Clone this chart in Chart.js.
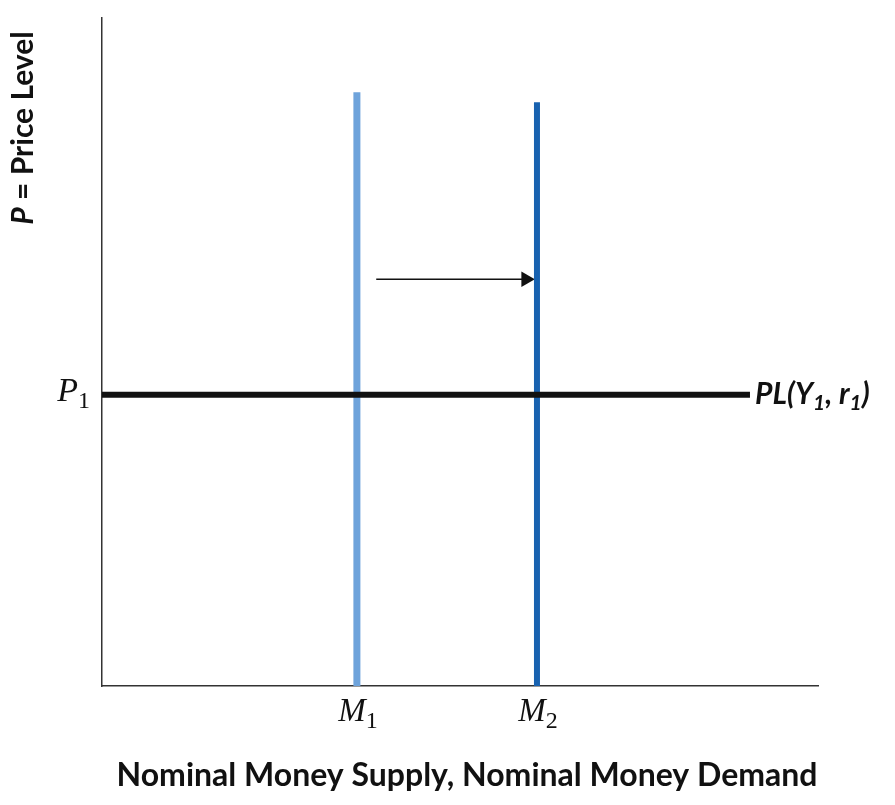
<!DOCTYPE html>
<html>
<head>
<meta charset="utf-8">
<script src="https://cdn.jsdelivr.net/npm/chart.js@4.4.0/dist/chart.umd.min.js"></script>
<style>
  body { margin: 0; background: #fff; }
  #chartMoney { display: block; }
</style>
</head>
<body>
<canvas id="chartMoney" width="895" height="805"></canvas>
<script>
// values (axes run 0..100, no ticks shown)
const m1X = [35.6, 35.6];
const m1Y = [0, 88.9];
const m2X = [60.75, 60.75];
const m2Y = [0, 87.4];
const plX = [0, 90.5];
const plY = [43.6, 43.6];
const shiftX = [38.3, 59.2];
const shiftY = [60.9, 60.9];

function pts(xs, ys) {
    return xs.map(function (x, i) { return { x: x, y: ys[i] }; });
}

const serif = '"Liberation Serif", "DejaVu Serif", serif';
const sans = 'Lato, "Open Sans", sans-serif';

// draws a row of text pieces (for subscripts)
function drawPieces(ctx, pieces, x, y, align) {
    let total = 0;
    pieces.forEach(function (p) {
        ctx.font = p.f;
        total += ctx.measureText(p.t).width;
    });
    let cx = x;
    if (align === 'right') cx = x - total;
    if (align === 'center') cx = x - total / 2;
    ctx.textAlign = 'left';
    ctx.textBaseline = 'alphabetic';
    pieces.forEach(function (p) {
        ctx.font = p.f;
        ctx.fillText(p.t, cx, y + (p.dy || 0));
        cx += ctx.measureText(p.t).width;
    });
}

const labelsPlugin = {
    id: 'labelsPlugin',
    afterDraw: function (chart) {
        const ctx = chart.ctx;
        const xs = chart.scales.x;
        const ys = chart.scales.y;
        const area = chart.chartArea;
        ctx.save();
        ctx.fillStyle = '#111';

        // P1 on the left of the axis
        const pY = ys.getPixelForValue(plY[0]);
        drawPieces(ctx, [
            { t: 'P', f: 'italic 34px ' + serif },
            { t: '1', f: '24px ' + serif, dy: 7 }
        ], area.left - 12, pY + 6, 'right');

        // PL(Y1, r1) at the end of the line
        const plEnd = xs.getPixelForValue(plX[1]);
        const big = 'italic bold 30px ' + sans;
        const small = 'italic bold 21px ' + sans;
        drawPieces(ctx, [
            { t: 'PL(Y', f: big },
            { t: '1', f: small, dy: 6 },
            { t: ', r', f: big },
            { t: '1', f: small, dy: 6 },
            { t: ')', f: big }
        ], plEnd + 5, pY + 9, 'left');

        // M1, M2 under the axis
        const baseY = area.bottom + 35;
        [[m1X[0], '1'], [m2X[0], '2']].forEach(function (m) {
            drawPieces(ctx, [
                { t: 'M', f: 'italic 33px ' + serif },
                { t: m[1], f: '24px ' + serif, dy: 7 }
            ], xs.getPixelForValue(m[0]) + 1, baseY, 'center');
        });

        // x axis title
        ctx.font = 'bold 32px ' + sans;
        ctx.textAlign = 'center';
        ctx.textBaseline = 'alphabetic';
        ctx.fillText('Nominal Money Supply, Nominal Money Demand', (area.left + area.right) / 2 + 7, 786);

        // y axis title, rotated
        ctx.translate(33, 128);
        ctx.rotate(-Math.PI / 2);
        drawPieces(ctx, [
            { t: 'P', f: 'italic bold 30px ' + sans },
            { t: ' = Price Level', f: 'bold 30px ' + sans }
        ], 0, 0, 'center');
        ctx.restore();
    }
};

const ctxMoney = document.getElementById('chartMoney');
const chartMoney = new Chart(ctxMoney, {
    type: 'scatter',
    data: {
        datasets: [
            {
                label: 'PL',
                data: pts(plX, plY),
                showLine: true,
                borderColor: '#111',
                borderWidth: 6,
                pointRadius: 0
            },
            {
                label: 'M1',
                data: pts(m1X, m1Y),
                showLine: true,
                borderColor: '#6ea3db',
                borderWidth: 7,
                pointRadius: 0
            },
            {
                label: 'M2',
                data: pts(m2X, m2Y),
                showLine: true,
                borderColor: '#1862b0',
                borderWidth: 6,
                pointRadius: 0
            },
            {
                label: 'shift',
                data: pts(shiftX, shiftY),
                showLine: true,
                borderColor: '#111',
                borderWidth: 1.5,
                pointStyle: 'triangle',
                rotation: 90,
                pointRadius: [0, 9],
                pointBackgroundColor: '#111',
                pointBorderWidth: 0
            }
        ]
    },
    options: {
        responsive: false,
        animation: false,
        layout: { padding: { left: 102, right: 77, top: 18, bottom: 119 } },
        plugins: {
            legend: { display: false },
            tooltip: { enabled: false }
        },
        scales: {
            x: {
                type: 'linear',
                min: 0,
                max: 100,
                ticks: { display: false },
                grid: { display: false, drawTicks: false },
                border: { display: true, color: '#333', width: 1.5 }
            },
            y: {
                type: 'linear',
                min: 0,
                max: 100,
                ticks: { display: false },
                grid: { display: false, drawTicks: false },
                border: { display: true, color: '#333', width: 1.5 }
            }
        }
    },
    plugins: [labelsPlugin]
});
</script>
</body>
</html>
